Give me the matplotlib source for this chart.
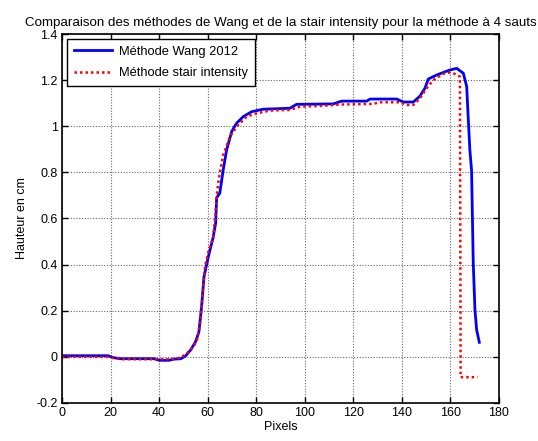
import numpy as np
import matplotlib
matplotlib.use("Agg")
import matplotlib.pyplot as plt

plt.rcParams['font.family'] = ['Liberation Sans', 'DejaVu Sans']

# Méthode Wang 2012 (courbe bleue)
x_wang = [0, 19, 21, 24, 38, 40, 44, 46, 49, 51, 53, 55, 56.4, 57.5, 58.5, 60.3,
          62.2, 63.3, 63.7, 65, 65.8, 66.4, 67.8, 69.9, 71.9, 74.7, 78.1, 82.9,
          93.9, 96.6, 111.8, 115.2, 125.5, 126.9, 137.9, 140.6, 144.7, 147.4,
          149.5, 150.9, 154.3, 157, 159.8, 162.6, 165.3, 166.7, 167.3, 168,
          168.7, 169.4, 170.1, 170.8, 171.9]
y_wang = [0.005, 0.005, -0.003, -0.008, -0.008, -0.015, -0.015, -0.01, -0.008,
          0.005, 0.03, 0.065, 0.108, 0.218, 0.348, 0.435,
          0.515, 0.58, 0.69, 0.71, 0.767, 0.81, 0.897, 0.977, 1.013, 1.042, 1.063, 1.074,
          1.078, 1.095, 1.097, 1.109, 1.109, 1.118, 1.118, 1.105, 1.105, 1.13,
          1.165, 1.205, 1.222, 1.233, 1.244, 1.251, 1.23, 1.172, 1.042, 0.897,
          0.81, 0.406, 0.203, 0.117, 0.063]

# Méthode stair intensity (courbe rouge)
x_stair = [0, 19, 21, 25, 45, 48, 50.7, 53, 55.5, 57.1, 57.8, 58.9, 60.3, 62.3,
           63, 64, 64.7, 66.4, 69.2, 71.9, 76.1, 80.2, 85.7, 93.9, 98, 106.3,
           114.5, 128.2, 130.9, 139.2, 142, 144.7, 147.4, 150.2, 152.9, 157,
           159.8, 161.8, 163.9, 164.2, 171.2]
y_stair = [0.0, 0.0, -0.005, -0.01, -0.01, -0.005, 0.008, 0.03, 0.066, 0.16,
           0.26, 0.39, 0.456, 0.52, 0.594, 0.724, 0.78, 0.875, 0.955, 0.998,
           1.042, 1.056, 1.068, 1.071, 1.085, 1.088, 1.094, 1.097, 1.104, 1.104,
           1.092, 1.092, 1.12, 1.165, 1.2, 1.227, 1.233, 1.227, 1.215, -0.088,
           -0.088]

fig = plt.figure(figsize=(5.38, 4.41), dpi=100)
ax = fig.add_axes([0.1152, 0.0862, 0.8123, 0.8367])

ax.plot(x_wang, y_wang, color='#0000ff', linewidth=2, label='Méthode Wang 2012')
ax.plot(x_stair, y_stair, color='#ff0000', linewidth=1.8, linestyle=(0, (1, 1.2)),
        label='Méthode stair intensity')

ax.set_xlim(0, 180)
ax.set_ylim(-0.2, 1.4)
ax.set_xticks(np.arange(0, 181, 20))
ax.set_yticks(np.arange(-0.2, 1.41, 0.2))
ax.set_yticklabels(['-0.2', '0', '0.2', '0.4', '0.6', '0.8', '1', '1.2', '1.4'])
ax.grid(True, color='#666666', linestyle=(0, (1, 1.5)), linewidth=0.8)
ax.tick_params(direction='in', top=True, right=True, labelsize=9, length=4,
               width=1, pad=3)
for s in ax.spines.values():
    s.set_linewidth(1.2)

ax.set_xlabel('Pixels', fontsize=9, labelpad=1)
ax.set_ylabel('Hauteur en cm', fontsize=9, labelpad=6)
ax.set_title('Comparaison des méthodes de Wang et de la stair intensity pour la méthode à 4 sauts',
             fontsize=9.6, pad=6)

leg = ax.legend(loc='upper left', fontsize=9.3, fancybox=False, framealpha=1,
                edgecolor='black', borderaxespad=0.4, handlelength=3.0,
                handletextpad=0.55, borderpad=0.5, labelspacing=0.75)
leg.get_frame().set_linewidth(1.0)

fig.savefig('out.png', dpi=100)
